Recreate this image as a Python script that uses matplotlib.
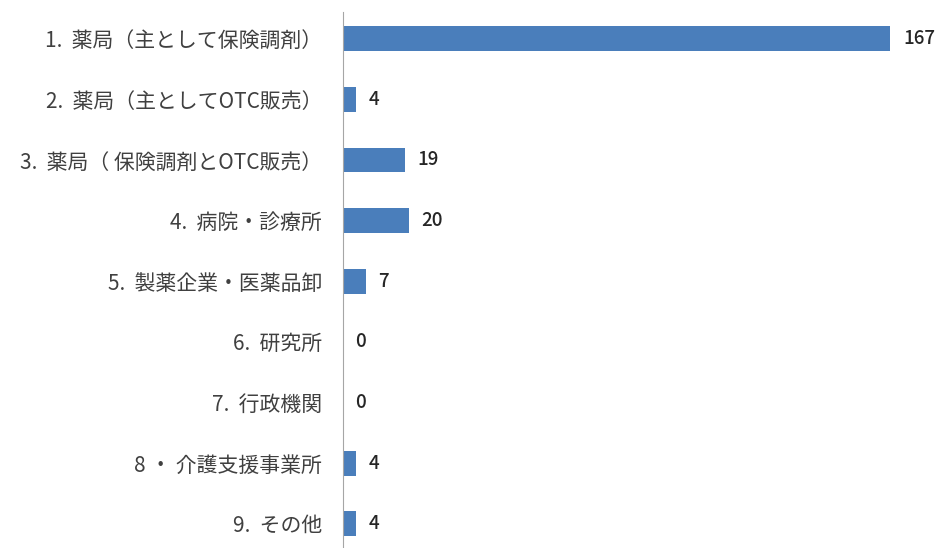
import matplotlib.pyplot as plt

plt.rcParams['font.family'] = ['Noto Sans CJK JP', 'DejaVu Sans']

categories = [
    '1.  薬局（主として保険調剤）',
    '2.  薬局（主としてOTC販売）',
    '3.  薬局（ 保険調剤とOTC販売）',
    '4.  病院・診療所',
    '5.  製薬企業・医薬品卸',
    '6.  研究所',
    '7.  行政機関',
    '8 ・ 介護支援事業所',
    '9.  その他',
]
counts = [167, 4, 19, 20, 7, 0, 0, 4, 4]

W, H = 947, 548
fig = plt.figure(figsize=(W / 100, H / 100), dpi=100)
ax = fig.add_axes([343 / W, 0, 590 / W, 536 / H])

y = list(range(len(categories)))
ax.barh(y, counts, height=0.41, color='#4a7ebb')

for yi, v in zip(y, counts):
    ax.annotate(str(v), (v, yi), xytext=(9, 0), textcoords='offset points',
                va='center', ha='left', fontsize=13.5, fontweight='medium',
                color='#262626')

ax.set_xlim(0, 180)
ax.set_ylim(8.4, -0.44)
ax.set_yticks(y)
ax.set_yticklabels(categories, fontsize=15, color='#404040')
ax.tick_params(axis='y', length=0, pad=15)
ax.set_xticks([])
for side in ['top', 'right', 'bottom']:
    ax.spines[side].set_visible(False)
ax.spines['left'].set_color('#a6a6a6')

fig.savefig('out.png', dpi=100)
